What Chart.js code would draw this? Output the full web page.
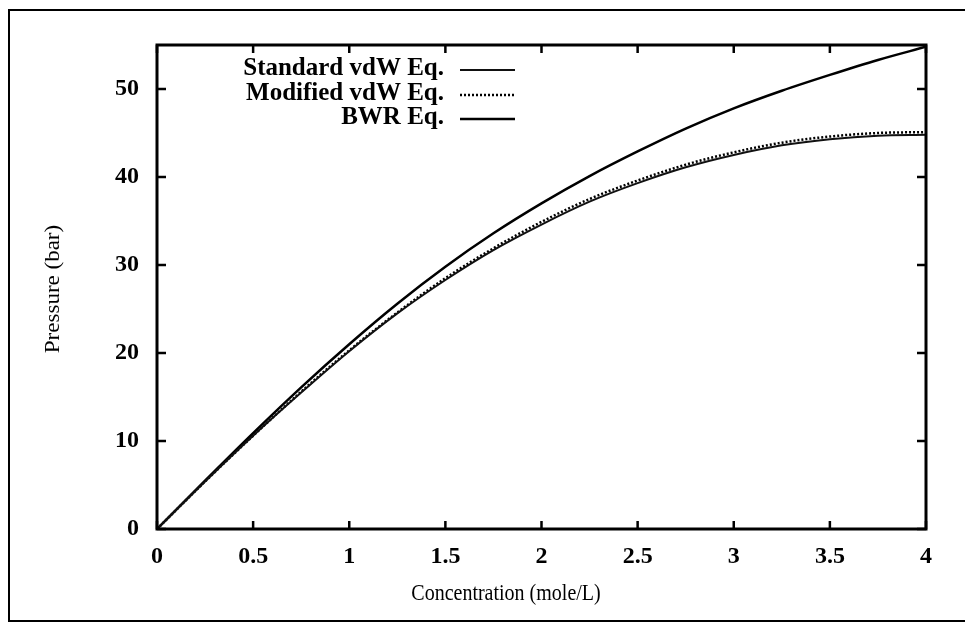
<!DOCTYPE html>
<html>
<head>
<meta charset="utf-8">
<script src="https://cdn.jsdelivr.net/npm/chart.js@4"></script>
<style>
  html, body { margin: 0; padding: 0; background: white; }
  #wrap { position: relative; width: 965px; height: 624px; }
</style>
</head>
<body>
<div id="wrap"><canvas id="c" width="965" height="624"></canvas></div>
<script>
// Pressure vs concentration for three equations of state
const concentration = [0, 0.25, 0.5, 0.75, 1, 1.25, 1.5, 1.75, 2, 2.25, 2.5, 2.75, 3, 3.25, 3.5, 3.75, 4];
const standardVdw = [0, 5.4, 10.6, 15.5, 20.2, 24.5, 28.3, 31.7, 34.6, 37.2, 39.3, 41.1, 42.5, 43.6, 44.3, 44.7, 44.8];
const modifiedVdw = [0, 5.4, 10.6, 15.6, 20.3, 24.6, 28.5, 31.9, 34.9, 37.5, 39.6, 41.4, 42.8, 43.9, 44.6, 45.0, 45.1];
const bwr = [0, 5.5, 10.9, 16.1, 21.0, 25.6, 29.8, 33.6, 37.0, 40.1, 42.9, 45.5, 47.8, 49.8, 51.6, 53.3, 54.8];
const seriesNames = ['Standard vdW Eq.', 'Modified vdW Eq.', 'BWR Eq.'];
const xTicks = [0, 0.5, 1, 1.5, 2, 2.5, 3, 3.5, 4];
const yTicks = [0, 10, 20, 30, 40, 50];
const xTitle = 'Concentration (mole/L)';
const yTitle = 'Pressure (bar)';

function pts(ys) {
    return concentration.map(function (x, i) { return { x: x, y: ys[i] }; });
}

const SERIF = '"Liberation Serif", "DejaVu Serif", serif';

// frame, inward ticks, axis titles and gnuplot-style legend
const decor = {
    id: 'decor',
    afterDraw: function (chart) {
        const ctx = chart.ctx;
        const a = chart.chartArea;
        const xs = chart.scales.x, ys = chart.scales.y;
        ctx.save();
        ctx.strokeStyle = '#000';
        // outer frame
        ctx.lineWidth = 2;
        ctx.beginPath();
        ctx.moveTo(965, 10); ctx.lineTo(9, 10); ctx.lineTo(9, 621); ctx.lineTo(965, 621);
        ctx.stroke();
        // plot box
        ctx.lineWidth = 3;
        ctx.strokeRect(a.left, a.top, a.right - a.left, a.bottom - a.top);
        // inward ticks
        ctx.lineWidth = 2.5;
        ctx.beginPath();
        xTicks.forEach(function (v) {
            const px = xs.getPixelForValue(v);
            ctx.moveTo(px, a.bottom); ctx.lineTo(px, a.bottom - 8);
            ctx.moveTo(px, a.top); ctx.lineTo(px, a.top + 8);
        });
        yTicks.forEach(function (v) {
            const py = ys.getPixelForValue(v);
            ctx.moveTo(a.left, py); ctx.lineTo(a.left + 9, py);
            ctx.moveTo(a.right, py); ctx.lineTo(a.right - 9, py);
        });
        ctx.stroke();
        // axis titles (scan is a little taller than wide)
        ctx.fillStyle = '#000';
        ctx.font = '20px ' + SERIF;
        ctx.textAlign = 'center';
        ctx.textBaseline = 'middle';
        ctx.save();
        ctx.translate(506, 594);
        ctx.scale(1, 1.2);
        ctx.fillText(xTitle, 0, 0);
        ctx.restore();
        ctx.save();
        ctx.translate(54, 289);
        ctx.rotate(-Math.PI / 2);
        ctx.scale(1.15, 1);
        ctx.fillText(yTitle, 0, 0);
        ctx.restore();
        // legend
        ctx.font = 'bold 25px ' + SERIF;
        ctx.textAlign = 'right';
        const rowsY = [69, 94, 118];
        chart.data.datasets.forEach(function (ds, i) {
            ctx.fillText(ds.label, 444, rowsY[i]);
            ctx.save();
            ctx.strokeStyle = ds.borderColor;
            ctx.lineWidth = ds.borderWidth;
            ctx.setLineDash(ds.borderDash || []);
            ctx.beginPath();
            ctx.moveTo(460, rowsY[i] + 1);
            ctx.lineTo(515, rowsY[i] + 1);
            ctx.stroke();
            ctx.restore();
        });
        ctx.restore();
    }
};

new Chart(document.getElementById('c'), {
    type: 'scatter',
    data: {
        datasets: [
            { label: seriesNames[0], data: pts(standardVdw), showLine: true,
              borderColor: '#111', borderWidth: 2, pointRadius: 0,
              cubicInterpolationMode: 'monotone' },
            { label: seriesNames[1], data: pts(modifiedVdw), showLine: true,
              borderColor: '#000', borderWidth: 2.5, borderDash: [2, 2], pointRadius: 0,
              cubicInterpolationMode: 'monotone' },
            { label: seriesNames[2], data: pts(bwr), showLine: true,
              borderColor: '#000', borderWidth: 2.5, pointRadius: 0,
              cubicInterpolationMode: 'monotone' }
        ]
    },
    options: {
        responsive: false,
        animation: false,
        layout: { padding: { top: 45, right: 39, left: 0, bottom: 0 } },
        plugins: { legend: { display: false }, tooltip: { enabled: false } },
        scales: {
            x: {
                type: 'linear', min: 0, max: 4,
                afterBuildTicks: function (s) { s.ticks = xTicks.map(function (v) { return { value: v }; }); },
                afterFit: function (s) { s.height = 95; },
                grid: { display: false, drawTicks: false },
                border: { display: false },
                ticks: { color: '#000', padding: 13, maxRotation: 0,
                         callback: function (v) { return String(v); },
                         font: { family: SERIF, size: 24, weight: 'bold' } }
            },
            y: {
                type: 'linear', min: 0, max: 55,
                afterBuildTicks: function (s) { s.ticks = yTicks.map(function (v) { return { value: v }; }); },
                afterFit: function (s) { s.width = 157; },
                grid: { display: false, drawTicks: false },
                border: { display: false },
                ticks: { color: '#000', padding: 18,
                         callback: function (v) { return String(v); },
                         font: { family: SERIF, size: 24, weight: 'bold' } }
            }
        }
    },
    plugins: [decor]
});
</script>
</body>
</html>
